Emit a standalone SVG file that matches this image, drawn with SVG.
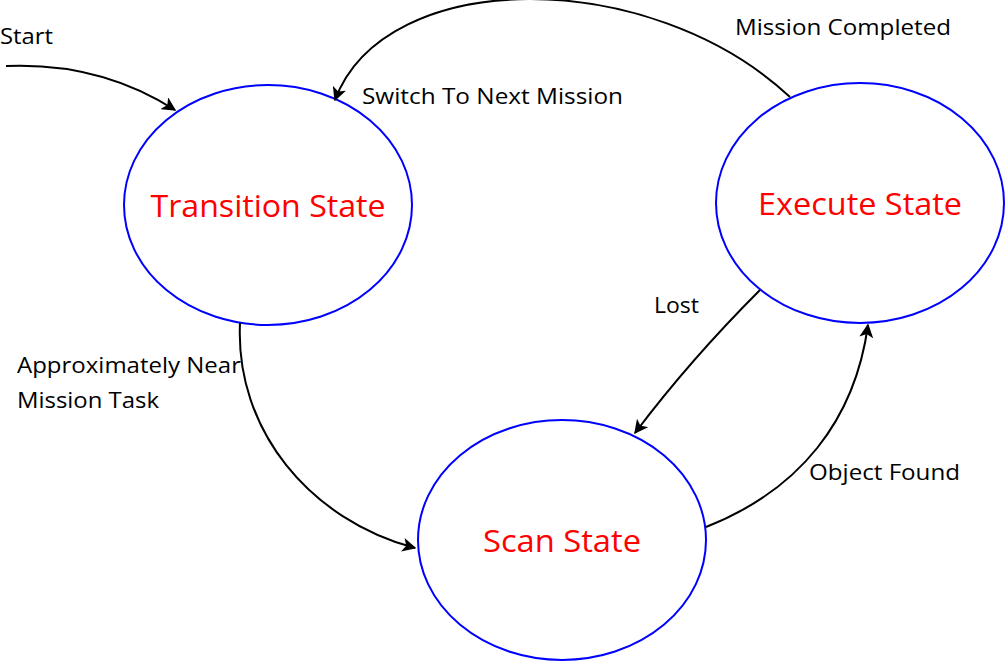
<svg xmlns="http://www.w3.org/2000/svg" width="1006" height="662" viewBox="0 0 1006 662">
<style>
.st{fill:#fff;stroke:#0000ff;stroke-width:2}
.sl{font-family:"Open Sans","Noto Sans",sans-serif;font-size:31px;fill:#ff0000;text-anchor:middle}
.lb{font-family:"Open Sans","Noto Sans",sans-serif;font-size:22px;fill:#000}
.cn{fill:none;stroke:#000;stroke-width:2;marker-end:url(#ah)}
</style>
<defs>
<marker id="ah" viewBox="0 0 10 10" refX="9" refY="5" markerWidth="7" markerHeight="7" orient="auto" markerUnits="strokeWidth">
<path d="M0,0 L10,5 L0,10 L2.5,5 z" fill="#000"/>
</marker>
</defs>
<rect width="1006" height="662" fill="#fff"/>
<g id="transition"><ellipse class="st" cx="268" cy="205" rx="144" ry="120"/><text class="sl" x="268" y="217" textLength="235" lengthAdjust="spacingAndGlyphs">Transition State</text></g>
<g id="execute"><ellipse class="st" cx="860" cy="203" rx="144" ry="120"/><text class="sl" x="860" y="215" textLength="204" lengthAdjust="spacingAndGlyphs">Execute State</text></g>
<g id="scan"><ellipse class="st" cx="562" cy="540" rx="144" ry="120"/><text class="sl" x="562" y="552" textLength="158" lengthAdjust="spacingAndGlyphs">Scan State</text></g>
<g id="connectors">
<path class="cn" d="M6,66 Q100,62 175,110"/>
<path class="cn" d="M790,97 C650,-34 385,-34 335,100"/>
<path class="cn" d="M240,323 C235,430 310,520 415,548"/>
<path class="cn" d="M760,290 Q690,360 635,433"/>
<path class="cn" d="M706,527 C800,490 855,420 868,325"/>
</g>
<g id="labels">
<text class="lb" x="0" y="44" textLength="53" lengthAdjust="spacingAndGlyphs">Start</text>
<text class="lb" x="735" y="35" textLength="216" lengthAdjust="spacingAndGlyphs">Mission Completed</text>
<text class="lb" x="362" y="104" textLength="261" lengthAdjust="spacingAndGlyphs">Switch To Next Mission</text>
<text class="lb" x="654" y="313" textLength="45" lengthAdjust="spacingAndGlyphs">Lost</text>
<text class="lb" x="17" y="373" textLength="224" lengthAdjust="spacingAndGlyphs">Approximately Near</text>
<text class="lb" x="17" y="408" textLength="142" lengthAdjust="spacingAndGlyphs">Mission Task</text>
<text class="lb" x="809" y="480" textLength="151" lengthAdjust="spacingAndGlyphs">Object Found</text>
</g>
</svg>
